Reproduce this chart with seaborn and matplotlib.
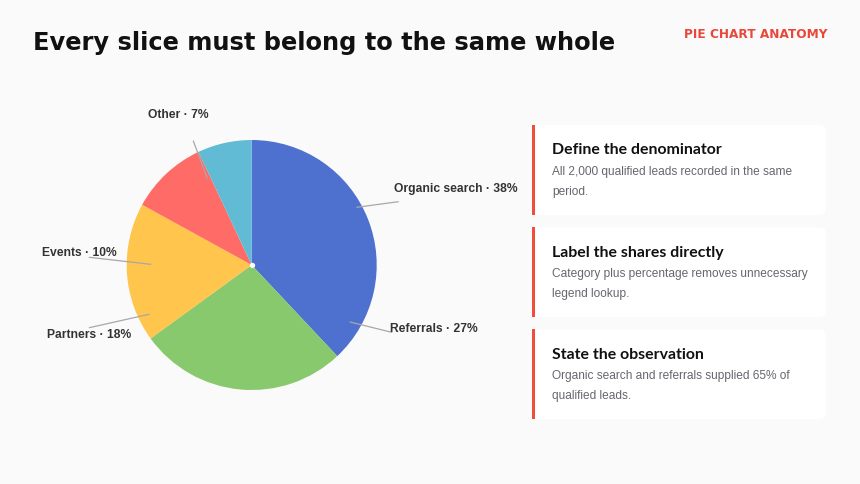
import matplotlib
matplotlib.use("Agg")
import matplotlib.pyplot as plt
import seaborn as sns
from matplotlib.patches import FancyBboxPatch, Rectangle

# ---- data ----
categories = ["Organic search", "Referrals", "Partners", "Events", "Other"]
shares = [38, 27, 18, 10, 7]
colors = ["#4e70cf", "#88c96e", "#ffc54c", "#ff6b66", "#62bbd5"]

title = "Every slice must belong to the same whole"
kicker = "PIE CHART ANATOMY"
card_titles = ["Define the denominator", "Label the shares directly", "State the observation"]
card_bodies = [
    ["All 2,000 qualified leads recorded in the same", "period."],
    ["Category plus percentage removes unnecessary", "legend lookup."],
    ["Organic search and referrals supplied 65% of", "qualified leads."],
]

# ---- layout (pixels) ----
W, H = 860, 484
BG = "#fafafa"
cx, cy, R = 251.7, 265.0, 125.0
# label line (start, end) and text anchor (x, baseline y, ha)
label_layout = [
    ((356.7, 207.3), (398.3, 201.7), (394, 192, "left")),
    ((350.0, 322.0), (391.7, 332.3), (390, 331.5, "left")),
    ((149.0, 314.3), (89.3, 327.7), (131, 338, "right")),
    ((150.7, 264.3), (89.3, 257.3), (117, 255.5, "right")),
    ((207.3, 178.3), (193.3, 141.0), (178, 117.5, "center")),
]
card_tops = [125, 227.3, 329.3]
card_h = 90

sns.set_theme(style="white")
plt.rcParams["font.family"] = ["Liberation Sans", "DejaVu Sans"]
pal = sns.color_palette(colors)

fig = plt.figure(figsize=(W / 100, H / 100), dpi=100, facecolor=BG)

# pie axes
pax = fig.add_axes([(cx - R) / W, (H - cy - R) / H, 2 * R / W, 2 * R / H])
pax.pie(shares, colors=pal, startangle=90, counterclock=False, radius=1,
        wedgeprops=dict(linewidth=0))
pax.set_xlim(-1, 1)
pax.set_ylim(-1, 1)
pax.set_aspect("equal")
pax.axis("off")
pax.scatter([0], [0], s=8, color="white", zorder=5)

# overlay in pixel coordinates (on top, transparent)
ov = fig.add_axes([0, 0, 1, 1])
ov.set_xlim(0, W)
ov.set_ylim(H, 0)
ov.axis("off")
ov.patch.set_visible(False)

for cat, val, (p0, p1, (tx, ty, ha)) in zip(categories, shares, label_layout):
    ov.plot([p0[0], p1[0]], [p0[1], p1[1]], color="#a8a8a8", lw=0.9, zorder=6)
    ov.text(tx, ty, f"{cat} · {val}%", ha=ha, va="baseline", fontsize=8.7,
            fontweight="bold", color="#333333", zorder=7)

# title & kicker
ov.text(33, 49.7, title, fontsize=17.4, fontweight="bold", color="#111111",
        family=["DejaVu Sans"], ha="left", va="baseline")
ov.text(828, 38.3, kicker, fontsize=8.75, fontweight="bold", color="#e8473a",
        family=["DejaVu Sans"], ha="right", va="baseline")

# cards
for top, ct, body in zip(card_tops, card_titles, card_bodies):
    card = FancyBboxPatch((532, top), 294, card_h,
                          boxstyle="round,pad=0,rounding_size=7",
                          facecolor="white", edgecolor="none", zorder=2)
    ov.add_patch(card)
    ov.add_patch(Rectangle((532, top), 3.2, card_h, facecolor="#f04e3a",
                           edgecolor="none", zorder=3))
    ov.text(552, top + 29.3, ct, fontsize=11.4, fontweight="bold", color="#111111",
            family=["Lato", "DejaVu Sans"], ha="left", va="baseline", zorder=4)
    for i, line in enumerate(body):
        ov.text(552, top + 50 + 20 * i, line, fontsize=8.6, color="#666670",
                ha="left", va="baseline", zorder=4)

fig.savefig("out.png", dpi=100, facecolor=BG)
